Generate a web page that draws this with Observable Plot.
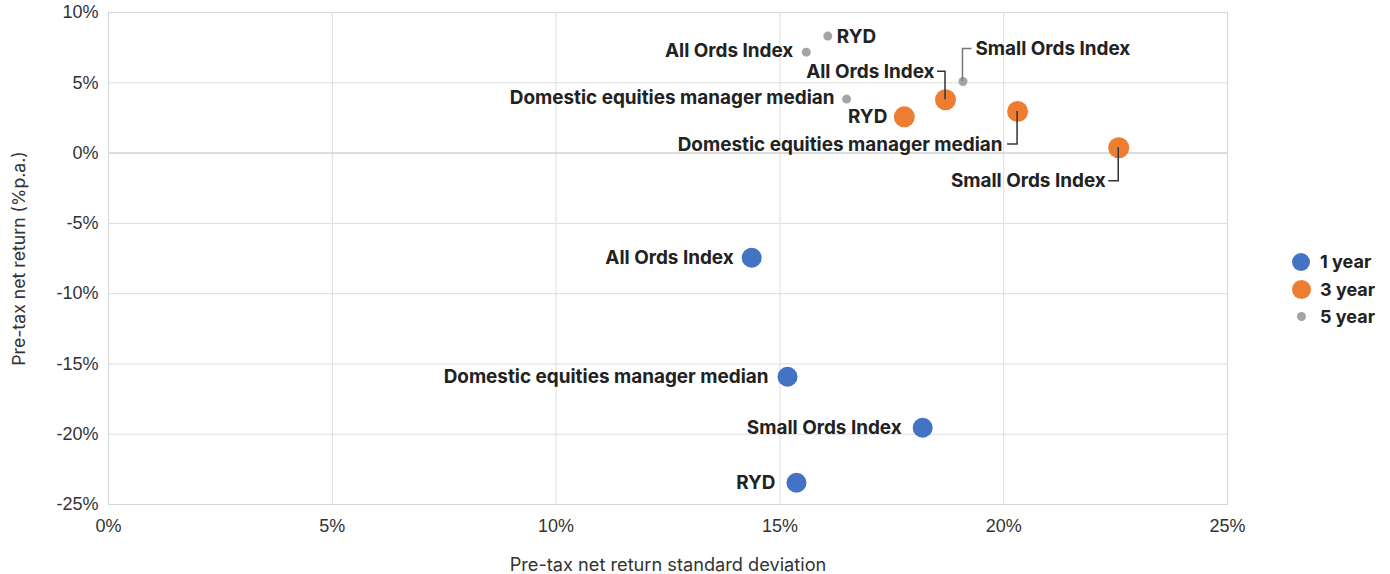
<!DOCTYPE html>
<html><head><meta charset="utf-8">
<script src="https://cdn.jsdelivr.net/npm/d3@7"></script>
<script src="https://cdn.jsdelivr.net/npm/@observablehq/plot@0.6"></script>
<style>
body{margin:0;background:#fff;}
#wrap{position:relative;width:1390px;height:574px;overflow:hidden;}
.legend{position:absolute;left:1290px;top:248px;font:bold 18px Inter, sans-serif;color:#222;}
.legend .row{display:flex;align-items:center;height:27.5px;}
.legend .sw{width:22px;display:flex;justify-content:center;margin-right:8px;}
.legend .sw span{display:block;border-radius:50%;}
</style></head><body><div id="wrap"></div>
<script>
// ---- data ----
const seriesNames = ["1 year", "3 year", "5 year"];
const seriesColors = ["#4472C4", "#ED7D31", "#A5A5A5"];

const labels1 = ["All Ords Index", "Domestic equities manager median", "Small Ords Index", "RYD"];
const std1 = [14.37, 15.17, 18.19, 15.37];
const ret1 = [-7.45, -15.91, -19.54, -23.45];

const labels3 = ["RYD", "All Ords Index", "Domestic equities manager median", "Small Ords Index"];
const std3 = [17.78, 18.70, 20.31, 22.57];
const ret3 = [2.58, 3.79, 2.96, 0.38];

const labels5 = ["RYD", "All Ords Index", "Domestic equities manager median", "Small Ords Index"];
const std5 = [16.07, 15.59, 16.49, 19.09];
const ret5 = [8.32, 7.18, 3.84, 5.09];

const xTicks = [0, 5, 10, 15, 20, 25];
const yTicks = [10, 5, 0, -5, -10, -15, -20, -25];

const xTitle = "Pre-tax net return standard deviation";
const yTitle = "Pre-tax net return (%p.a.)";

// ---- label layout (pixel offsets, styling) ----
const layout1 = [
  {anchor: "end", dx: -18, dy: 0},
  {anchor: "end", dx: -19, dy: 0},
  {anchor: "end", dx: -21, dy: 0},
  {anchor: "end", dx: -21, dy: 0}
];
const layout3 = [
  {anchor: "end", dx: -17, dy: 0},
  {anchor: "end", dx: -11, dy: -28, leader: -8},
  {anchor: "end", dx: -15, dy: 33, leader: -10},
  {anchor: "end", dx: -13, dy: 33.5, leader: -10}
];
const layout5 = [
  {anchor: "start", dx: 9, dy: 0.7},
  {anchor: "end", dx: -13, dy: -1},
  {anchor: "end", dx: -12, dy: -1.5},
  {anchor: "start", dx: 12.5, dy: -32.5, leader: 9}
];

const build = (si, labels, xs, ys, lay) => labels.map((l, i) => ({
  series: seriesNames[si], label: l, std: xs[i], ret: ys[i], ...lay[i]
}));
const pts1 = build(0, labels1, std1, ret1, layout1);
const pts3 = build(1, labels3, std3, ret3, layout3);
const pts5 = build(2, labels5, std5, ret5, layout5);
const all = [...pts1, ...pts3, ...pts5];

const labelFont = "Inter, sans-serif";
const textMarks = all.map(d => Plot.text([d], {
  x: "std", y: "ret", text: "label", textAnchor: d.anchor, dx: d.dx, dy: d.dy,
  fontFamily: labelFont, fontWeight: 700, fontSize: 18.9, fill: "#222"
}));

function leaders(index, scales) {
  const g = d3.create("svg:g").attr("fill", "none").attr("stroke-width", 1.5);
  for (const d of all) {
    if (d.leader === undefined) continue;
    const px = scales.x(d.std), py = scales.y(d.ret);
    const ly = py + d.dy;
    g.append("path")
      .attr("stroke", d.series === "5 year" ? "#777" : "#333")
      .attr("d", `M${px},${py}V${ly}H${px + d.leader}`);
  }
  return g.node();
}

const chart = Plot.plot({
  width: 1390, height: 574,
  marginLeft: 108, marginRight: 163, marginTop: 12, marginBottom: 70,
  style: {fontFamily: "'Liberation Sans', Arial, sans-serif", fontSize: "18px", color: "#333", background: "#fff", overflow: "visible"},
  x: {domain: [0, 25], ticks: xTicks, tickFormat: d => d + "%", label: null},
  y: {domain: [-25, 10], ticks: yTicks, tickFormat: d => d + "%", label: null},
  marks: [
    Plot.gridX(xTicks, {stroke: "#ddd", strokeOpacity: 1}),
    Plot.gridY(yTicks, {stroke: "#ddd", strokeOpacity: 1}),
    Plot.ruleY([0], {stroke: "#ccc"}),
    Plot.frame({stroke: "#d6d6d6"}),
    Plot.axisX(xTicks, {tickSize: 0, tickPadding: 15, tickFormat: d => d + "%", fontSize: 18, label: null}),
    Plot.axisY(yTicks, {tickSize: 0, tickPadding: 10, tickFormat: d => d + "%", fontSize: 18, label: null}),
    Plot.text([xTitle], {frameAnchor: "bottom", dy: 66, text: d => d, fontFamily: "Inter, sans-serif", fontSize: 18.2, fill: "#333"}),
    Plot.text([yTitle], {frameAnchor: "left", textAnchor: "middle", dx: -89, rotate: -90, text: d => d, fontFamily: "Inter, sans-serif", fontSize: 17.7, fill: "#333"}),
    Plot.dot(pts1, {x: "std", y: "ret", r: 10, fill: seriesColors[0]}),
    Plot.dot(pts3, {x: "std", y: "ret", r: 10.5, fill: seriesColors[1]}),
    Plot.dot(pts5, {x: "std", y: "ret", r: 4.5, fill: seriesColors[2]}),
    leaders,
    ...textMarks
  ]
});
const wrap = document.getElementById("wrap");
wrap.appendChild(chart);

// legend
const legendSizes = [18, 19, 9];
const leg = document.createElement("div");
leg.className = "legend";
seriesNames.forEach((s, i) => {
  const row = document.createElement("div");
  row.className = "row";
  row.innerHTML = `<div class="sw"><span style="width:${legendSizes[i]}px;height:${legendSizes[i]}px;background:${seriesColors[i]}"></span></div><div>${s}</div>`;
  leg.appendChild(row);
});
wrap.appendChild(leg);
</script>
</body></html>
